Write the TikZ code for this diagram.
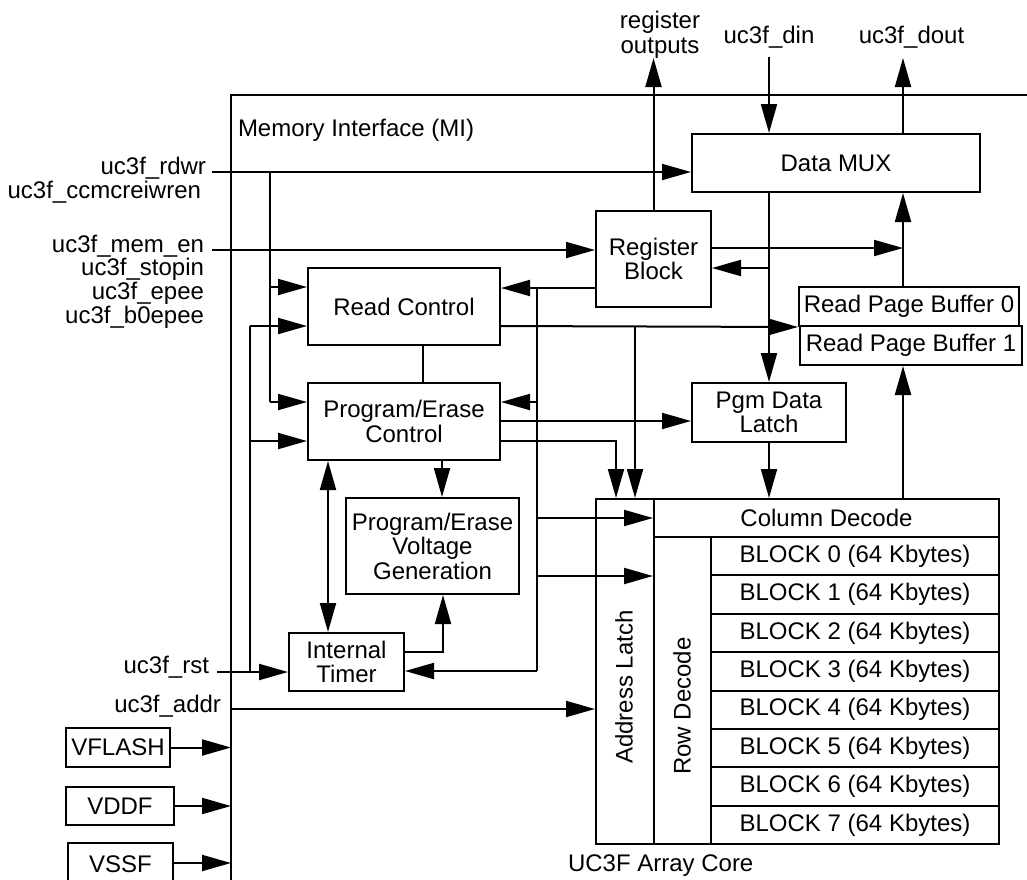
\documentclass[tikz,border=0pt]{standalone}
\usepackage{fontspec}
\setmainfont{Liberation Sans}
\usetikzlibrary{arrows.meta}

\begin{document}
\begin{tikzpicture}[x=1pt,y=-1pt,line width=2pt,>={Triangle[length=29pt,width=16pt]},
  font=\fontsize{24}{24.5}\selectfont,
  box/.style={draw,inner sep=0pt,align=center},
  txt/.style={inner sep=0pt}]
\useasboundingbox (0,0) rectangle (1027,879);
\clip (0,0) rectangle (1027,879);

% memory interface frame
\draw (1035,95) -- (231,95) -- (231,890);
\node[txt,anchor=west] (milbl) at (237,130) {Memory Interface (MI)};

% blocks
\node[box,minimum width=288,minimum height=58] (mux) at (836,163) {Data MUX};
\node[box,minimum width=115,minimum height=96] (reg) at (653.5,259) {Register\\Block};
\node[box,minimum width=192,minimum height=77] (rdctl) at (404,306.5) {Read Control};
\node[box,minimum width=192,minimum height=77] (pectl) at (404,421.5) {Program/Erase\\Control};
\node[box,minimum width=220,minimum height=39] (rpb0) at (909,306.5) {Read Page Buffer 0};
\node[box,minimum width=222,minimum height=39] (rpb1) at (911,345.5) {Read Page Buffer 1};
\node[box,minimum width=154,minimum height=59] (pgm) at (769,412.5) {Pgm Data\\Latch};
\node[box,minimum width=173,minimum height=96] (pev) at (432.5,546) {Program/Erase\\Voltage\\Generation};
\node[box,minimum width=115,minimum height=58] (tmr) at (346.5,662) {Internal\\Timer};

% array core
\node[box,minimum width=58,minimum height=345] (alatch) at (625,671.5) {};
\node[txt,rotate=90] (altxt) at (624,687) {Address Latch};
\node[box,minimum width=345,minimum height=38] (coldec) at (826.5,518) {Column Decode};
\node[box,minimum width=57,minimum height=307] (rowdec) at (682.5,690.5) {};
\node[txt,rotate=90] (rdtxt) at (682,706) {Row Decode};
\node[box,minimum width=288,minimum height=38.4] (blk0) at (855,556.2) {BLOCK 0 (64 Kbytes)};
\node[box,minimum width=288,minimum height=38.4] (blk1) at (855,594.6) {BLOCK 1 (64 Kbytes)};
\node[box,minimum width=288,minimum height=38.4] (blk2) at (855,632.9) {BLOCK 2 (64 Kbytes)};
\node[box,minimum width=288,minimum height=38.4] (blk3) at (855,671.3) {BLOCK 3 (64 Kbytes)};
\node[box,minimum width=288,minimum height=38.4] (blk4) at (855,709.7) {BLOCK 4 (64 Kbytes)};
\node[box,minimum width=288,minimum height=38.4] (blk5) at (855,748.1) {BLOCK 5 (64 Kbytes)};
\node[box,minimum width=288,minimum height=38.4] (blk6) at (855,786.4) {BLOCK 6 (64 Kbytes)};
\node[box,minimum width=288,minimum height=38.4] (blk7) at (855,824.8) {BLOCK 7 (64 Kbytes)};
\node[txt,anchor=base west] (core) at (567,871) {UC3F Array Core};

% supplies
\node[box,minimum width=104,minimum height=39] (vflash) at (118,747.5) {VFLASH};
\node[box,minimum width=108,minimum height=38] (vddf) at (120,806) {VDDF};
\node[box,minimum width=105,minimum height=42] (vssf) at (120.5,864) {VSSF};

% signal names
\node[txt,anchor=base east] (rdwr) at (207,174) {uc3f\_rdwr};
\node[txt,anchor=base east] (ccm) at (202,198) {uc3f\_ccmcreiwren};
\node[txt,anchor=base east] (memen) at (205,252) {uc3f\_mem\_en};
\node[txt,anchor=base east] (stopin) at (205,275) {uc3f\_stopin};
\node[txt,anchor=base east] (epee) at (205,299) {uc3f\_epee};
\node[txt,anchor=base east] (b0epee) at (205,323) {uc3f\_b0epee};
\node[txt,anchor=base east] (rst) at (210,673) {uc3f\_rst};
\node[txt,anchor=base east] (addr) at (222,712) {uc3f\_addr};
\node[txt,align=center] (regout) at (660,35) {register\\outputs};
\node[txt,anchor=base] (din) at (769,43) {uc3f\_din};
\node[txt,anchor=base] (dout) at (911.5,43) {uc3f\_dout};

\coordinate (rdwrIn) at (212,172);
\coordinate (memenIn) at (212,250);
\coordinate (rstIn) at (217,672);
\coordinate (addrIn) at (231,709);
\coordinate (busA) at (270,172);
\coordinate (busB) at (250,326);
\coordinate (busC) at (537,288);
\coordinate (tapR) at (635,326);
\coordinate (tapP) at (616,441);
\coordinate (tapD) at (769,268);
\coordinate (joinO) at (903,248);
\coordinate (outTop) at (903,58);

% inputs
\draw[->] (rdwrIn) -- (rdwrIn -| mux.west);
\draw[->] (memenIn) -- (memenIn -| reg.west);
\draw (busA) -- (busA |- 0,402);
\draw[->] (busA |- 0,287) -- (rdctl.west |- 0,287);
\draw[->] (busA |- 0,402) -- (pectl.west |- 0,402);
\draw (busB) -- (busB |- rstIn);
\draw[->] (busB) -- (busB -| rdctl.west);
\draw[->] (busB |- 0,441) -- (pectl.west |- 0,441);
\draw[->] (rstIn) -- (rstIn -| tmr.west);
\draw[->] (addrIn) -- (addrIn -| alatch.west);
\draw[->] (vflash.east) -- (vflash.east -| addrIn);
\draw[->] (vddf.east) -- (vddf.east -| addrIn);
\draw[->] (vssf.east |- 0,863) -- (addrIn |- 0,863);

% register block bus
\draw[->] (busC -| reg.west) -- (busC -| rdctl.east);
\draw (busC) -- (busC |- 0,671);
\draw[->] (busC |- 0,402) -- (pectl.east |- 0,402);
\draw[->] (busC |- 0,671) -- (tmr.east |- 0,671);
\draw[->] (busC |- coldec.west) -- (coldec.west);
\draw[->] (busC |- 0,576) -- (rowdec.west |- 0,576);

% control paths
\draw[->] (rdctl.east |- tapR) -- (rpb0.south west);
\draw[->] (tapR) -- (tapR |- alatch.north);
\draw (423,0 |- rdctl.south) -- (423,0 |- pectl.north);
\draw[->] (pectl.east |- 0,421) -- (pgm.west |- 0,421);
\draw[->] (pectl.east |- tapP) -- (tapP) -- (tapP |- alatch.north);
\draw[->] (442,0 |- pectl.south) -- (442,0 |- pev.north);
\draw[<->] (328,0 |- pectl.south) -- (328,0 |- tmr.north);
\draw[->] (tmr.east |- 0,652) -- (443,652) -- (443,0 |- pev.south);

% data paths
\draw[->] (din |- 0,57) -- (din |- mux.north);
\draw[->] (outTop |- mux.north) -- (outTop);
\draw[->] (reg.north) -- (reg.north |- outTop);
\draw[->] (tapD |- mux.south) -- (tapD |- pgm.north);
\draw[->] (tapD) -- (tapD -| reg.east);
\draw[->] (joinO -| reg.east) -- (joinO);
\draw[->] (joinO |- rpb0.north) -- (joinO |- mux.south);
\draw[->] (joinO |- coldec.north) -- (joinO |- rpb1.south);
\draw[->] (pgm.south) -- (pgm.south |- coldec.north);
\end{tikzpicture}
\end{document}
